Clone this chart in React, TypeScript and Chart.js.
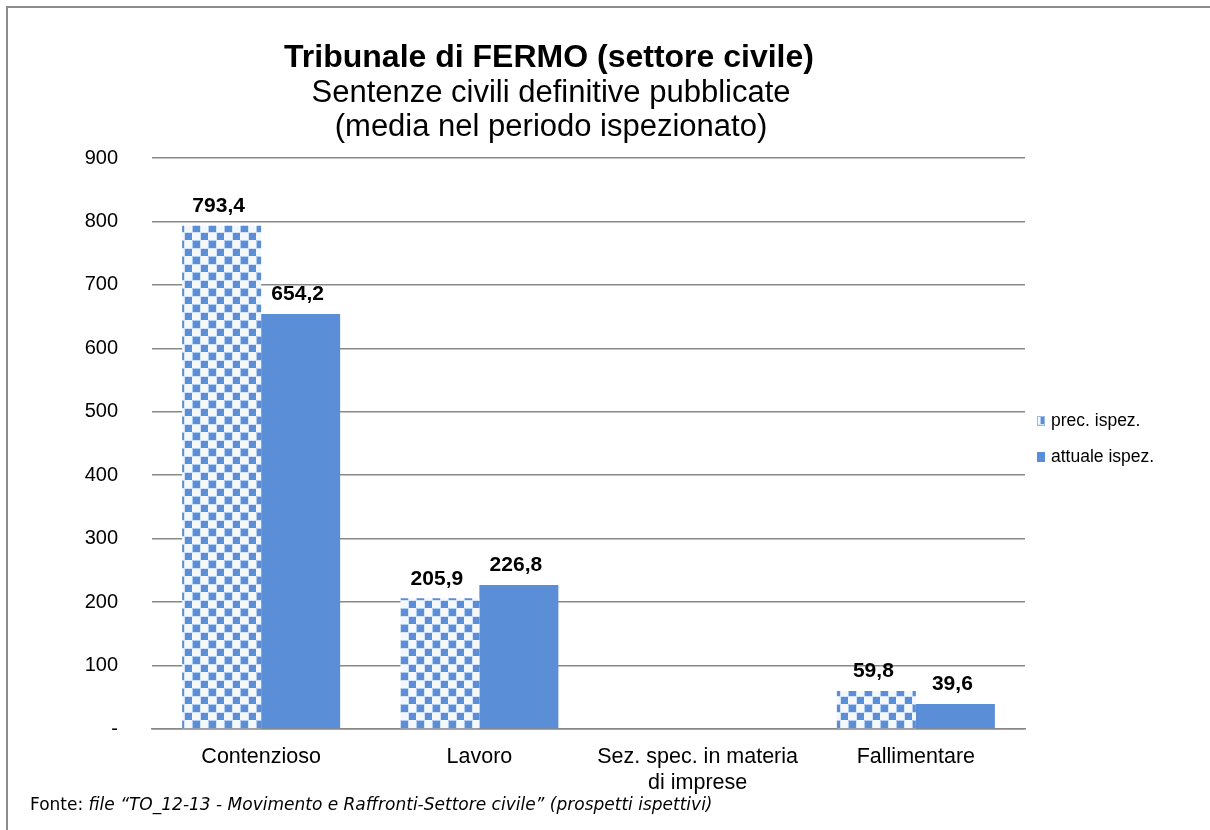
import React, { useEffect, useRef } from "react";
import { Chart, registerables } from "chart.js";

Chart.register(...registerables);

const categories: (string | string[])[] = [
  "Contenzioso",
  "Lavoro",
  ["Sez. spec. in materia", "di imprese"],
  "Fallimentare",
];
const precIspez: (number | null)[] = [793.4, 205.9, null, 59.8];
const attualeIspez: (number | null)[] = [654.2, 226.8, null, 39.6];
const seriesNames = ["prec. ispez.", "attuale ispez."];
const titleLines = [
  "Tribunale di FERMO (settore civile)",
  "Sentenze civili definitive pubblicate",
  "(media nel periodo ispezionato)",
];
const footerLead = "Fonte: ";
const footerText = "file \u201CTO_12-13 - Movimento e Raffronti-Settore civile\u201D (prospetti ispettivi)";

const BLUE = "#5A8FD8";
const FONT = "'Liberation Sans', Arial, sans-serif";

function makePattern(): CanvasPattern | string {
  const c = document.createElement("canvas");
  c.width = 16;
  c.height = 16;
  const g = c.getContext("2d");
  if (!g) return BLUE;
  g.fillStyle = "#f4f8fd";
  g.fillRect(0, 0, 16, 16);
  g.fillStyle = "#b3cbed";
  g.fillRect(0, 0, 9, 9);
  g.fillRect(8, 8, 8, 8);
  g.fillStyle = "#d6e3f6";
  g.fillRect(8, 0, 1, 16);
  g.fillRect(0, 8, 16, 1);
  g.fillStyle = BLUE;
  g.fillRect(1, 1, 7, 7);
  g.fillRect(9, 9, 7, 7);
  const p = g.createPattern(c, "repeat");
  return p || BLUE;
}

const fmt = (v: number) => v.toFixed(1).replace(".", ",");

const textPlugin = {
  id: "textPlugin",
  afterDraw(chart: any) {
    const ctx = chart.ctx as CanvasRenderingContext2D;
    ctx.save();
    ctx.fillStyle = "#000";
    ctx.textAlign = "center";
    ctx.textBaseline = "middle";
    ctx.font = `bold 32px ${FONT}`;
    ctx.fillText(titleLines[0], 549, 58);
    ctx.font = `31px ${FONT}`;
    ctx.fillText(titleLines[1], 551, 93);
    ctx.fillText(titleLines[2], 551, 127);

    ctx.textAlign = "left";
    ctx.font = `17px 'DejaVu Sans', sans-serif`;
    ctx.fillText(footerLead, 30, 806);
    const w = ctx.measureText(footerLead).width;
    ctx.font = `italic 17px 'DejaVu Sans', sans-serif`;
    ctx.fillText(footerText, 30 + w, 806);

    // legend
    const area = chart.chartArea;
    const lx = area.right + 12;
    const ys = [421, 457];
    ctx.font = `17.5px ${FONT}`;
    chart.data.datasets.forEach((ds: any, i: number) => {
      const y = ys[i];
      ctx.fillStyle = ds.backgroundColor;
      ctx.fillRect(lx, y - 5, 8, 10);
      if (i === 0) {
        ctx.strokeStyle = "#9dbbe6";
        ctx.lineWidth = 1;
        ctx.strokeRect(lx + 0.5, y - 4.5, 7, 9);
      }
      ctx.fillStyle = "#000";
      ctx.fillText(ds.label, lx + 14, y);
    });
    ctx.restore();
  },
};

const valueLabels = {
  id: "valueLabels",
  afterDatasetsDraw(chart: any) {
    const ctx = chart.ctx as CanvasRenderingContext2D;
    ctx.save();
    ctx.fillStyle = "#000";
    ctx.font = `bold 21px ${FONT}`;
    ctx.textAlign = "center";
    ctx.textBaseline = "bottom";
    chart.data.datasets.forEach((ds: any, di: number) => {
      const meta = chart.getDatasetMeta(di);
      meta.data.forEach((bar: any, i: number) => {
        const v = ds.data[i];
        if (v === null || v === undefined) return;
        ctx.fillText(fmt(v), bar.x - 3, bar.y - 9);
      });
    });
    ctx.restore();
  },
};

export default function App() {
  const ref = useRef<HTMLCanvasElement>(null);
  useEffect(() => {
    if (!ref.current) return;
    const chart = new Chart(ref.current, {
      type: "bar",
      data: {
        labels: categories,
        datasets: [
          {
            label: seriesNames[0],
            data: precIspez,
            backgroundColor: makePattern() as any,
            borderWidth: 0,
            categoryPercentage: 0.724,
            barPercentage: 1,
          },
          {
            label: seriesNames[1],
            data: attualeIspez,
            backgroundColor: BLUE,
            borderWidth: 0,
            categoryPercentage: 0.724,
            barPercentage: 1,
          },
        ],
      },
      options: {
        responsive: false,
        animation: false,
        devicePixelRatio: 1,
        layout: { padding: { top: 158, left: 0, right: 185, bottom: 0 } },
        plugins: {
          title: { display: false },
          tooltip: { enabled: false },
          legend: { display: false },
        },
        scales: {
          x: {
            grid: { display: false, drawTicks: false },
            border: { display: true, color: "#888", width: 1.5 },
            ticks: {
              color: "#000",
              padding: 15,
              font: { family: FONT, size: 21.5 },
              maxRotation: 0,
              autoSkip: false,
            },
            afterFit(scale: any) {
              scale.height = 101;
            },
          },
          y: {
            min: 0,
            max: 900,
            grid: { color: "#888", lineWidth: 1.5, drawTicks: false },
            border: { display: false },
            ticks: {
              stepSize: 100,
              color: "#000",
              padding: 34,
              font: { family: FONT, size: 20 },
              callback: (v: any) => (Number(v) === 0 ? "-" : String(v)),
            },
            afterFit(scale: any) {
              scale.width = 152;
            },
          },
        },
      },
      plugins: [textPlugin, valueLabels],
    });
    return () => chart.destroy();
  }, []);

  return (
    <div
      style={{
        position: "absolute",
        left: 0,
        top: 0,
        width: 1210,
        height: 830,
        background: "#fff",
        overflow: "hidden",
      }}
    >
      <div
        style={{
          position: "absolute",
          left: 6,
          top: 6,
          right: -4,
          bottom: -4,
          borderLeft: "2px solid #8c8c8c",
          borderTop: "2px solid #8c8c8c",
        }}
      />
      <canvas
        ref={ref}
        width={1210}
        height={830}
        style={{ position: "absolute", left: 0, top: 0, width: 1210, height: 830 }}
      />
    </div>
  );
}
